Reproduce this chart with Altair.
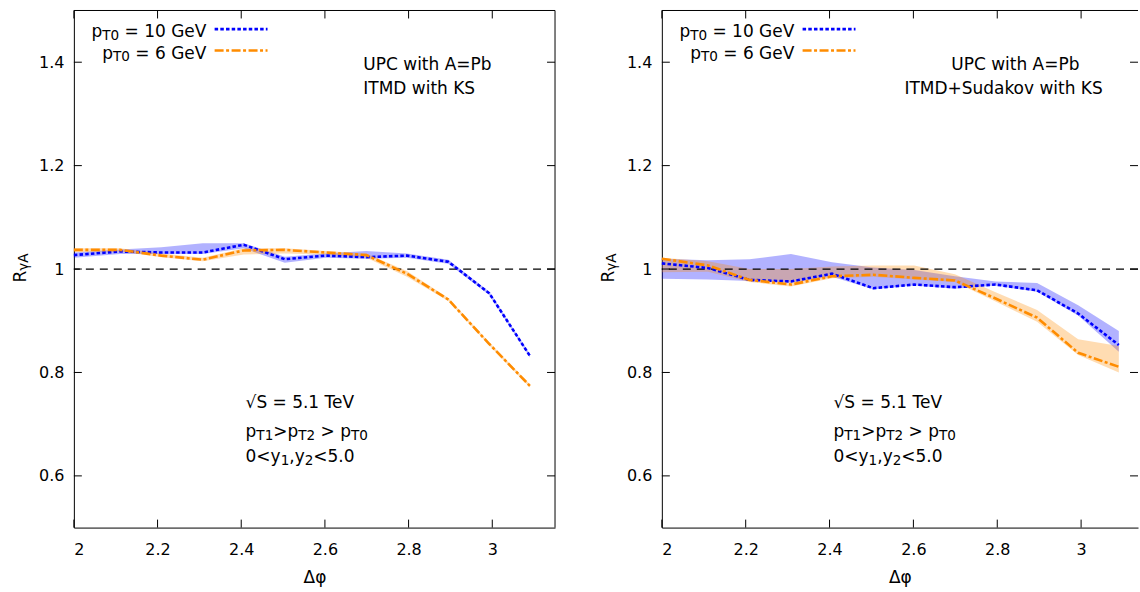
import altair as alt
import pandas as pd

FONT = "DejaVu Sans"
BLUE = "#0000ff"
ORANGE = "#ff8c00"
MAIN = 17     # main text size
SUB = 13.6    # subscript size (0.8 of main)
DROP = 2.5    # subscript baseline shift

# Delta-phi bin positions
dphi = [2.0, 2.11, 2.209, 2.308, 2.406, 2.504, 2.602, 2.699, 2.796, 2.895, 2.993, 3.09]

# R_gammaA, ITMD with KS (central value, band low, band high)
itmd_10 = [1.027, 1.034, 1.032, 1.032, 1.047, 1.019, 1.026, 1.023, 1.026, 1.014, 0.953, 0.832]
itmd_10_lo = [1.022, 1.029, 1.029, 1.029, 1.040, 1.012, 1.022, 1.020, 1.022, 1.010, 0.950, 0.829]
itmd_10_hi = [1.032, 1.038, 1.042, 1.050, 1.050, 1.024, 1.030, 1.035, 1.030, 1.018, 0.956, 0.835]
itmd_6 = [1.037, 1.037, 1.026, 1.018, 1.036, 1.037, 1.032, 1.027, 0.991, 0.941, 0.855, 0.774]
itmd_6_lo = [1.033, 1.034, 1.023, 1.015, 1.028, 1.030, 1.028, 1.022, 0.985, 0.938, 0.852, 0.771]
itmd_6_hi = [1.040, 1.040, 1.030, 1.022, 1.040, 1.040, 1.035, 1.030, 0.996, 0.944, 0.858, 0.777]

# R_gammaA, ITMD+Sudakov with KS
sud_10 = [1.011, 1.002, 0.979, 0.976, 0.991, 0.963, 0.970, 0.965, 0.970, 0.959, 0.914, 0.853]
sud_10_lo = [0.981, 0.980, 0.977, 0.974, 0.985, 0.961, 0.968, 0.962, 0.968, 0.956, 0.910, 0.840]
sud_10_hi = [1.020, 1.017, 1.019, 1.029, 1.013, 1.003, 0.998, 0.986, 0.976, 0.973, 0.930, 0.880]
sud_6 = [1.020, 1.007, 0.979, 0.970, 0.986, 0.989, 0.983, 0.978, 0.943, 0.906, 0.838, 0.811]
sud_6_lo = [0.994, 0.995, 0.975, 0.966, 0.982, 0.985, 0.980, 0.975, 0.937, 0.898, 0.834, 0.800]
sud_6_hi = [1.022, 1.015, 1.000, 1.000, 1.005, 1.007, 1.007, 0.990, 0.955, 0.921, 0.864, 0.851]

x_ticks = [2, 2.2, 2.4, 2.6, 2.8, 3]
y_ticks = [0.6, 0.8, 1, 1.2, 1.4]

H = 518
TICK = 8

# approximate DejaVu Sans advance widths (em) for laying out subscript runs
ADV = {" ": .318, "p": .635, "T": .611, ">": .838, "<": .838, "=": .838, "G": .775,
       "e": .615, "V": .684, "y": .592, ",": .318, ".": .318, "R": .695, "γ": .592,
       "A": .684, "S": .635}


def text_width(s, size):
    return size * sum(ADV.get(c, 0.636 if c.isdigit() else 0.6) for c in s)


def label(text, x, y, size=MAIN, align="left", angle=0):
    return alt.Chart(alt.Data(values=[{}])).mark_text(
        text=text, align=align, baseline="alphabetic", fontSize=size,
        font=FONT, color="black", angle=angle
    ).encode(x=alt.value(x), y=alt.value(y))


def run(pieces, x0, y0):
    layers = []
    x = x0
    for s, size, drop in pieces:
        lead = len(s) - len(s.lstrip(" "))
        trail = len(s) - len(s.rstrip(" "))
        core = s.strip(" ")
        x += text_width(" " * lead, size)
        layers.append(label(core, x, y0 + drop, size))
        x += text_width(core, size) + text_width(" " * trail, size)
    return layers


def run_width(pieces):
    return sum(text_width(s, size) for s, size, _ in pieces)


def rule(x, x2, y, y2=None, **style):
    enc = dict(x=alt.value(x), x2=alt.value(x2), y=alt.value(y))
    if y2 is not None:
        enc["y2"] = alt.value(y2)
    return alt.Chart(alt.Data(values=[{}])).mark_rule(**style).encode(**enc)


def panel(width, x_max, r10, lo10, hi10, r6, lo6, hi6, model, model_x, right_edge):
    xs = alt.Scale(domain=[2, x_max], nice=False, zero=False)
    ys = alt.Scale(domain=[0.5, 1.5], nice=False, zero=False)
    x_axis = alt.Axis(values=x_ticks, format="~g", title="Δφ", grid=False, tickSize=0,
                      labelPadding=14, titlePadding=12, labelFontSize=16, titleFontSize=17,
                      titleFontWeight="normal", labelFlush=True, domain=True,
                      domainColor="black", domainWidth=1)
    y_axis = alt.Axis(values=y_ticks, format="~g", title=None, grid=False, tickSize=0,
                      labelPadding=10, labelFontSize=16, domain=True,
                      domainColor="black", domainWidth=1)

    def X(f):
        return alt.X(f, scale=xs, axis=x_axis)

    def Y(f):
        return alt.Y(f, scale=ys, axis=y_axis)

    d10 = pd.DataFrame({"dphi": dphi, "r": r10, "lo": lo10, "hi": hi10})
    d6 = pd.DataFrame({"dphi": dphi, "r": r6, "lo": lo6, "hi": hi6})

    band10 = alt.Chart(d10).mark_area(color=BLUE, opacity=0.3).encode(
        x=X("dphi:Q"), y=Y("lo:Q"), y2="hi:Q")
    band6 = alt.Chart(d6).mark_area(color=ORANGE, opacity=0.3).encode(
        x=X("dphi:Q"), y=Y("lo:Q"), y2="hi:Q")
    unity = alt.Chart(alt.Data(values=[{"one": 1}])).mark_rule(
        color="black", strokeWidth=1.2, strokeDash=[8, 6]).encode(y=Y("one:Q"))
    line10 = alt.Chart(d10).mark_line(color=BLUE, strokeWidth=2.6, strokeDash=[3.5, 2.2]).encode(
        x=X("dphi:Q"), y=Y("r:Q"))
    line6 = alt.Chart(d6).mark_line(color=ORANGE, strokeWidth=2.6,
                                     strokeDash=[9, 2.5, 3, 2.5]).encode(
        x=X("dphi:Q"), y=Y("r:Q"))

    xt = pd.DataFrame({"t": x_ticks})
    yt = pd.DataFrame({"t": y_ticks})
    tick_style = dict(color="black", strokeWidth=1)
    frame = [
        alt.Chart(xt).mark_rule(**tick_style).encode(x=X("t:Q"), y=alt.value(H), y2=alt.value(H - TICK)),
        alt.Chart(xt).mark_rule(**tick_style).encode(x=X("t:Q"), y=alt.value(0), y2=alt.value(TICK)),
        alt.Chart(yt).mark_rule(**tick_style).encode(y=Y("t:Q"), x=alt.value(0), x2=alt.value(TICK)),
        alt.Chart(yt).mark_rule(**tick_style).encode(y=Y("t:Q"), x=alt.value(width), x2=alt.value(width - TICK)),
        rule(0, width, 0, **tick_style),
    ]
    if right_edge:
        frame.append(rule(width, width, 0, H, **tick_style))

    # key: right-justified titles with line samples
    legend = []
    for i, (txt, col, dash) in enumerate([("= 10 GeV", BLUE, [3.5, 2.2]),
                                          ("= 6 GeV", ORANGE, [9, 2.5, 3, 2.5])]):
        pieces = [("p", MAIN, 0), ("T0", SUB, DROP), (" " + txt, MAIN, 0)]
        base = 27 + 21.3 * i
        legend += run(pieces, 132.7 - run_width(pieces), base)
        legend.append(rule(141, 194, base - 8.3, color=col, strokeWidth=2.6, strokeDash=dash))

    notes = [label("UPC with A=Pb", 290, 59.3), label(model, model_x, 83.3),
             label("√S = 5.1 TeV", 172, 398.5)]
    notes += run([("p", MAIN, 0), ("T1", SUB, DROP), (">", MAIN, 0), ("p", MAIN, 0),
                  ("T2", SUB, DROP), (" > ", MAIN, 0), ("p", MAIN, 0), ("T0", SUB, DROP)],
                 172, 427.5)
    notes += run([("0<y", MAIN, 0), ("1", SUB, DROP), (",y", MAIN, 0), ("2", SUB, DROP),
                  ("<5.0", MAIN, 0)], 172, 452.7)

    # rotated axis title R_{gammaA}
    r_w = text_width("R", MAIN)
    ytitle = [label("R", -48, 272.5, MAIN, angle=270),
              label("γA", -48 + DROP, 272.5 - r_w, SUB, angle=270)]

    layers = [band10, band6, unity, line10, line6] + frame + legend + notes + ytitle
    if right_edge:
        # reserves the outer margin so the plot area sits at a fixed offset
        layers.append(alt.Chart(alt.Data(values=[{}])).mark_rect(opacity=0).encode(
            x=alt.value(-73), x2=alt.value(-72), y=alt.value(-9), y2=alt.value(-8)))
    return alt.layer(*layers).properties(width=width, height=H)


left = panel(482, 3.15, itmd_10, itmd_10_lo, itmd_10_hi, itmd_6, itmd_6_lo, itmd_6_hi,
             "ITMD with KS", 290, True)
right = panel(477, 2 + 477 / 420, sud_10, sud_10_lo, sud_10_hi, sud_6, sud_6_lo, sud_6_hi,
              "ITMD+Sudakov with KS", 243, False)

chart = alt.hconcat(left, right, spacing=107, bounds="flush").properties(
    padding=0, background="white"
).configure_view(stroke="transparent").configure_axis(
    labelFont=FONT, titleFont=FONT, labelColor="black", titleColor="black"
)

chart.save("out.html", embed_options={"renderer": "svg", "actions": False})
